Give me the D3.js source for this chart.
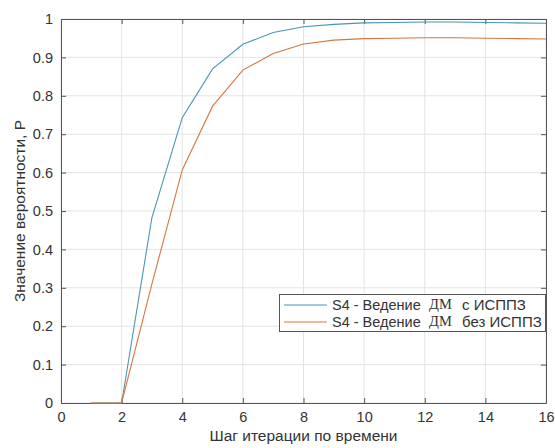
<!DOCTYPE html>
<html>
<head>
<meta charset="utf-8">
<script src="https://cdn.jsdelivr.net/npm/d3@7"></script>
<style>
  body { margin: 0; background: #fff; }
  text { font-family: "Liberation Sans", Arial, sans-serif; fill: #333; }
</style>
</head>
<body>
<div id="chart"></div>
<script>
// iteration steps and the two probability series
const steps = [1, 2, 3, 4, 5, 6, 7, 8, 9, 10, 11, 12, 13, 14, 15, 16];
const withIsppz = [0, 0, 0.483, 0.743, 0.87, 0.934, 0.965, 0.98, 0.986, 0.99, 0.991, 0.992, 0.992, 0.991, 0.99, 0.989];
const withoutIsppz = [0, 0, 0.31, 0.607, 0.773, 0.867, 0.91, 0.935, 0.945, 0.949, 0.95, 0.951, 0.951, 0.95, 0.949, 0.948];
const xTicks = [0, 2, 4, 6, 8, 10, 12, 14, 16];
const yTicks = [0, 0.1, 0.2, 0.3, 0.4, 0.5, 0.6, 0.7, 0.8, 0.9, 1];
const seriesNames = ["S4 - Ведение", "S4 - Ведение"];
const seriesTails = ["с ИСППЗ", "без ИСППЗ"];

const width = 555;
const height = 448;
const margin = { top: 19, right: 9, bottom: 45, left: 61 };

const svg = d3.select("#chart")
    .append("svg")
    .attr("width", width)
    .attr("height", height);

const x = d3.scaleLinear().domain([0, 16]).range([margin.left, width - margin.right]);
const y = d3.scaleLinear().domain([0, 1]).range([height - margin.bottom, margin.top]);

// grid
svg.append("g")
    .selectAll("line.vg")
    .data(xTicks)
    .enter().append("line")
    .attr("x1", d => x(d)).attr("x2", d => x(d))
    .attr("y1", y(0)).attr("y2", y(1))
    .attr("stroke", "#e3e3e3");
svg.append("g")
    .selectAll("line.hg")
    .data(yTicks)
    .enter().append("line")
    .attr("x1", x(0)).attr("x2", x(16))
    .attr("y1", d => y(d)).attr("y2", d => y(d))
    .attr("stroke", "#e3e3e3");

// axes (ticks pointing inward, like matlab)
const axisColor = "#555";
function styleAxis(g) {
    g.select(".domain").attr("stroke", axisColor);
    g.selectAll(".tick line").attr("stroke", axisColor);
    g.selectAll("text").style("font-family", "Liberation Sans, Arial, sans-serif")
        .style("font-size", "14.5px").attr("fill", "#333");
}

svg.append("g")
    .attr("transform", `translate(0, ${y(0)})`)
    .call(d3.axisBottom(x).tickValues(xTicks).tickSizeInner(-5).tickSizeOuter(0).tickPadding(9))
    .call(styleAxis);
svg.append("g")
    .attr("transform", `translate(0, ${y(1)})`)
    .call(d3.axisTop(x).tickValues(xTicks).tickSizeInner(-5).tickSizeOuter(0).tickFormat(""))
    .call(styleAxis);
svg.append("g")
    .attr("transform", `translate(${x(0)}, 0)`)
    .call(d3.axisLeft(y).tickValues(yTicks).tickSizeInner(-5).tickSizeOuter(0).tickPadding(8).tickFormat(d3.format("~g")))
    .call(styleAxis);
svg.append("g")
    .attr("transform", `translate(${x(16)}, 0)`)
    .call(d3.axisRight(y).tickValues(yTicks).tickSizeInner(-5).tickSizeOuter(0).tickFormat(""))
    .call(styleAxis);

// lines
const colors = ["#4a95b5", "#d9763d"];
const line = d3.line().x((d, i) => x(steps[i])).y(d => y(d));
[withIsppz, withoutIsppz].forEach((s, i) => {
    svg.append("path")
        .datum(s)
        .attr("fill", "none")
        .attr("stroke", colors[i])
        .attr("stroke-width", 1.1)
        .attr("d", line);
});

// axis labels
svg.append("text")
    .attr("x", (x(0) + x(16)) / 2)
    .attr("y", 441)
    .attr("text-anchor", "middle")
    .style("font-size", "15.5px")
    .text("Шаг итерации по времени");
svg.append("text")
    .attr("transform", "rotate(-90)")
    .attr("x", -211)
    .attr("y", 25)
    .attr("text-anchor", "middle")
    .style("font-size", "15.5px")
    .text("Значение вероятности, P");

// legend
const lg = svg.append("g");
lg.append("rect")
    .attr("x", 279.5).attr("y", 294.5)
    .attr("width", 266).attr("height", 37)
    .attr("fill", "#fff")
    .attr("stroke", "#555");
seriesNames.forEach((name, i) => {
    const yy = 305 + i * 17;
    lg.append("line")
        .attr("x1", 284).attr("x2", 327)
        .attr("y1", yy).attr("y2", yy)
        .attr("stroke", colors[i]).attr("stroke-width", 1.2);
    lg.append("text")
        .attr("x", 332).attr("y", yy + 5)
        .style("font-size", "14.5px")
        .text(name);
    lg.append("text")
        .attr("x", 429).attr("y", yy + 4)
        .style("font-family", "Liberation Serif, serif")
        .style("font-size", "14.5px")
        .text("ДМ");
    lg.append("text")
        .attr("x", 462).attr("y", yy + 5)
        .style("font-size", "15px")
        .text(seriesTails[i]);
});
</script>
</body>
</html>
